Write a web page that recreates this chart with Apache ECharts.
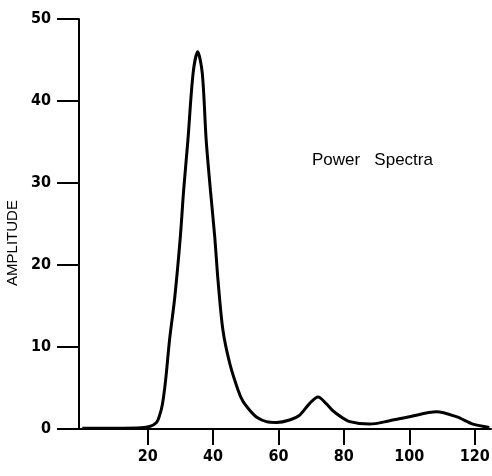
<!DOCTYPE html>
<html>
<head>
<meta charset="utf-8">
<script src="https://cdn.jsdelivr.net/npm/echarts@6/dist/echarts.min.js"></script>
<style>
  html, body { margin: 0; padding: 0; background: #fff; }
  #main { width: 492px; height: 476px; }
</style>
</head>
<body>
<div id="main"></div>
<script>
// frequency (x) and amplitude
const freq = [0, 10, 18, 20.6, 22.7, 23.6, 24.5, 25.5, 26.7, 28.3, 30, 31, 32.3, 33.9, 35.3,
  36.7, 37.9, 39.2, 40.5, 41.5, 43, 45.1, 47.6, 49.1, 51.2, 53.5, 56.3, 59.4, 63.4, 66.5, 69.5, 72.1,
  74.6, 76.7, 78.7, 81.8, 87.9, 94, 100.1, 108.3, 114.4, 119.5, 124.5];
const amplitude = [0.1, 0.1, 0.15, 0.3, 0.8, 1.6, 3.0, 6.0, 10.9, 16.1, 23.5, 29.1, 35.2, 43.4, 46.0,
  43.4, 35.2, 29.1, 23.5, 18.2, 12.1, 8.0, 4.8, 3.4, 2.3, 1.4, 0.9, 0.8, 1.1, 1.7, 3.1, 3.9,
  3.1, 2.2, 1.6, 0.9, 0.6, 1.0, 1.5, 2.1, 1.5, 0.6, 0.2];
const xTicks = [20, 40, 60, 80, 100, 120];
const yTicks = [0, 10, 20, 30, 40, 50];

const points = freq.map((f, i) => [f, amplitude[i]]);
const labelFont = "'Liberation Sans Narrow', 'DejaVu Sans Condensed', 'Liberation Sans', sans-serif";

const chart = echarts.init(document.getElementById('main'));
const option = {
  animation: false,
  title: {
    text: 'Power   Spectra',
    left: 307,
    top: 147,
    textStyle: { fontFamily: 'Liberation Sans', fontSize: 17, fontWeight: 'normal', color: '#000' }
  },
  grid: { left: 79, right: 1, top: 19, bottom: 47, outerBoundsMode: 'none' },
  xAxis: {
    type: 'value',
    min: -1,
    max: 125,
    splitLine: { show: false },
    axisLine: { lineStyle: { color: '#000', width: 2 } },
    axisTick: { customValues: xTicks, length: 16, lineStyle: { color: '#000', width: 2 } },
    axisLabel: {
      customValues: xTicks,
      margin: 20,
      color: '#000',
      fontFamily: labelFont,
      fontWeight: 'bold',
      fontSize: 16
    }
  },
  yAxis: {
    type: 'value',
    min: yTicks[0],
    max: yTicks[yTicks.length - 1],
    interval: 10,
    name: 'AMPLITUDE',
    nameLocation: 'middle',
    nameGap: 55,
    nameTextStyle: { fontFamily: 'Liberation Sans', fontSize: 15, color: '#000', padding: [0, 38, 0, 0] },
    splitLine: { show: false },
    axisLine: { onZero: false, lineStyle: { color: '#000', width: 2 } },
    axisTick: { length: 22, lineStyle: { color: '#000', width: 2 } },
    axisLabel: {
      margin: 28,
      color: '#000',
      fontFamily: labelFont,
      fontWeight: 'bold',
      fontSize: 16
    }
  },
  series: [{
    type: 'line',
    data: points,
    smooth: 0.3,
    showSymbol: false,
    lineStyle: { color: '#000', width: 3 }
  }]
};
chart.setOption(option);
</script>
</body>
</html>
